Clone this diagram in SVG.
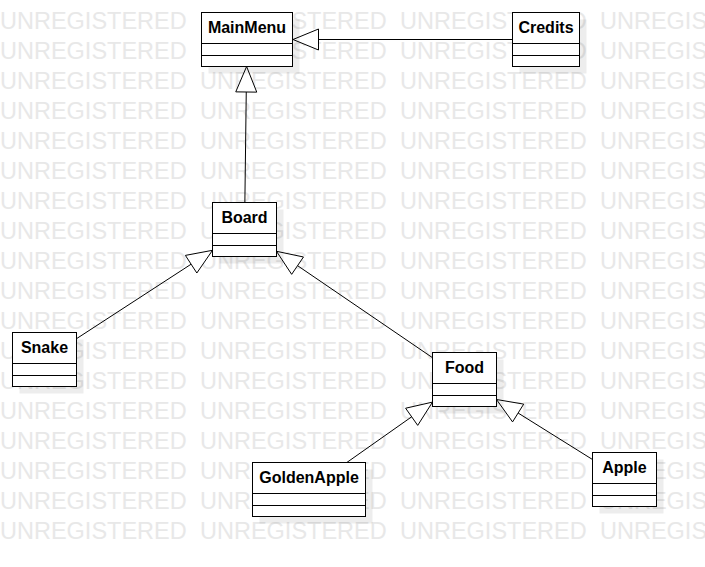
<svg xmlns="http://www.w3.org/2000/svg" xmlns:xlink="http://www.w3.org/1999/xlink" width="705" height="567" viewBox="0 0 705 567">
  <style>
    .wm { font-family: "Liberation Sans", Arial, sans-serif; font-size: 23.5px; fill: #e8e8e8; }
    .shadow { fill: #000000; fill-opacity: 0.07; stroke: none; }
    .box { fill: #ffffff; stroke: #000000; stroke-width: 1; }
    .sep { stroke: #000000; stroke-width: 1; fill: none; }
    .name { font-family: "Liberation Sans", Arial, sans-serif; font-size: 16px; font-weight: bold; fill: #000000; text-anchor: middle; }
    .edge { stroke: #000000; stroke-width: 1; fill: none; }
    .head { stroke: #000000; stroke-width: 1; fill: #ffffff; stroke-linejoin: miter; }
  </style>
  <defs>
    <g id="wmRow">
      <text class="wm" x="0" y="29.3">UNREGISTERED</text>
      <text class="wm" x="200" y="29.3">UNREGISTERED</text>
      <text class="wm" x="400" y="29.3">UNREGISTERED</text>
      <text class="wm" x="600" y="29.3">UNREGISTERED</text>
    </g>
  </defs>

  <rect x="0" y="0" width="705" height="567" fill="#ffffff"/>

  <!-- background watermark rows -->
  <g id="watermark">
    <use xlink:href="#wmRow" y="0"/>
    <use xlink:href="#wmRow" y="30"/>
    <use xlink:href="#wmRow" y="60"/>
    <use xlink:href="#wmRow" y="90"/>
    <use xlink:href="#wmRow" y="120"/>
    <use xlink:href="#wmRow" y="150"/>
    <use xlink:href="#wmRow" y="180"/>
    <use xlink:href="#wmRow" y="210"/>
    <use xlink:href="#wmRow" y="240"/>
    <use xlink:href="#wmRow" y="270"/>
    <use xlink:href="#wmRow" y="300"/>
    <use xlink:href="#wmRow" y="330"/>
    <use xlink:href="#wmRow" y="360"/>
    <use xlink:href="#wmRow" y="390"/>
    <use xlink:href="#wmRow" y="420"/>
    <use xlink:href="#wmRow" y="450"/>
    <use xlink:href="#wmRow" y="480"/>
    <use xlink:href="#wmRow" y="510"/>
  </g>

  <!-- generalization connectors -->
  <g id="connectors">
    <!-- Credits -> MainMenu -->
    <line class="edge" x1="512.5" y1="39.5" x2="318.5" y2="39.5"/>
    <polygon class="head" points="293,39.5 318.5,29 318.5,50"/>
    <!-- Board -> MainMenu -->
    <line class="edge" x1="244.86" y1="202.5" x2="246.26" y2="92"/>
    <polygon class="head" points="246.6,66.5 256.76,92.14 235.76,91.86"/>
    <!-- Snake -> Board -->
    <line class="edge" x1="76.5" y1="338.7" x2="191.12" y2="264.2"/>
    <polygon class="head" points="212.5,250.3 196.84,273 185.4,255.4"/>
    <!-- Food -> Board -->
    <line class="edge" x1="432.5" y1="357.7" x2="297.57" y2="265.66"/>
    <polygon class="head" points="276.5,251.3 291.66,274.34 303.48,256.98"/>
    <!-- GoldenApple -> Food -->
    <line class="edge" x1="346.8" y1="462.5" x2="411.66" y2="416.8"/>
    <polygon class="head" points="432.5,402.1 417.71,425.38 405.61,408.22"/>
    <!-- Apple -> Food -->
    <line class="edge" x1="592.5" y1="459.5" x2="518.12" y2="413.02"/>
    <polygon class="head" points="496.5,399.5 512.56,421.92 523.69,404.12"/>
  </g>

  <!-- class nodes -->
  <g id="MainMenu">
    <rect class="shadow" x="208.5" y="19.5" width="91" height="54"/>
    <rect class="box" x="201.5" y="12.5" width="91" height="54"/>
    <line class="sep" x1="201.5" y1="43.5" x2="292.5" y2="43.5"/>
    <line class="sep" x1="201.5" y1="55.5" x2="292.5" y2="55.5"/>
    <text class="name" x="247" y="32.5">MainMenu</text>
  </g>

  <g id="Credits">
    <rect class="shadow" x="519.5" y="19.5" width="67" height="54"/>
    <rect class="box" x="512.5" y="12.5" width="67" height="54"/>
    <line class="sep" x1="512.5" y1="43.5" x2="579.5" y2="43.5"/>
    <line class="sep" x1="512.5" y1="55.5" x2="579.5" y2="55.5"/>
    <text class="name" x="546" y="32.5">Credits</text>
  </g>

  <g id="Board">
    <rect class="shadow" x="219.5" y="209.5" width="64" height="54"/>
    <rect class="box" x="212.5" y="202.5" width="64" height="54"/>
    <line class="sep" x1="212.5" y1="233.5" x2="276.5" y2="233.5"/>
    <line class="sep" x1="212.5" y1="245.5" x2="276.5" y2="245.5"/>
    <text class="name" x="244.5" y="222.5">Board</text>
  </g>

  <g id="Snake">
    <rect class="shadow" x="19.5" y="339.5" width="64" height="54"/>
    <rect class="box" x="12.5" y="332.5" width="64" height="54"/>
    <line class="sep" x1="12.5" y1="363.5" x2="76.5" y2="363.5"/>
    <line class="sep" x1="12.5" y1="375.5" x2="76.5" y2="375.5"/>
    <text class="name" x="44.5" y="352.5">Snake</text>
  </g>

  <g id="Food">
    <rect class="shadow" x="439.5" y="359.5" width="64" height="54"/>
    <rect class="box" x="432.5" y="352.5" width="64" height="54"/>
    <line class="sep" x1="432.5" y1="383.5" x2="496.5" y2="383.5"/>
    <line class="sep" x1="432.5" y1="395.5" x2="496.5" y2="395.5"/>
    <text class="name" x="464.5" y="372.5">Food</text>
  </g>

  <g id="GoldenApple">
    <rect class="shadow" x="259.5" y="469.5" width="113" height="54"/>
    <rect class="box" x="252.5" y="462.5" width="113" height="54"/>
    <line class="sep" x1="252.5" y1="493.5" x2="365.5" y2="493.5"/>
    <line class="sep" x1="252.5" y1="505.5" x2="365.5" y2="505.5"/>
    <text class="name" x="309" y="483.3">GoldenApple</text>
  </g>

  <g id="Apple">
    <rect class="shadow" x="599.5" y="459.5" width="64" height="54"/>
    <rect class="box" x="592.5" y="452.5" width="64" height="54"/>
    <line class="sep" x1="592.5" y1="483.5" x2="656.5" y2="483.5"/>
    <line class="sep" x1="592.5" y1="495.5" x2="656.5" y2="495.5"/>
    <text class="name" x="624.5" y="472.5">Apple</text>
  </g>
</svg>
